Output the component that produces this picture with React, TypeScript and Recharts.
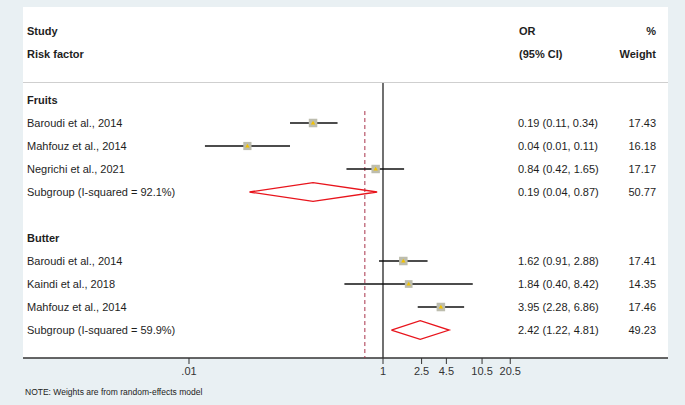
import React from 'react';
import { ScatterChart, Scatter, XAxis, YAxis, ReferenceLine } from 'recharts';

// ---------- data ----------
const rowKeys = [0, 1, 2, 3, 4, 6, 7, 8, 9, 10];
const rowLabels = [
  'Fruits',
  'Baroudi et al., 2014',
  'Mahfouz et al., 2014',
  'Negrichi et al., 2021',
  'Subgroup (I-squared = 92.1%)',
  'Butter',
  'Baroudi et al., 2014',
  'Kaindi et al., 2018',
  'Mahfouz et al., 2014',
  'Subgroup (I-squared = 59.9%)',
];
const rowIsHeader = [true, false, false, false, false, true, false, false, false, false];
const ciLabels = [
  '',
  '0.19 (0.11, 0.34)',
  '0.04 (0.01, 0.11)',
  '0.84 (0.42, 1.65)',
  '0.19 (0.04, 0.87)',
  '',
  '1.62 (0.91, 2.88)',
  '1.84 (0.40, 8.42)',
  '3.95 (2.28, 6.86)',
  '2.42 (1.22, 4.81)',
];
const weightLabels = ['', '17.43', '16.18', '17.17', '50.77', '', '17.41', '14.35', '17.46', '49.23'];

const studyRows = [1, 2, 3, 7, 8, 9];
const studyOR = [0.19, 0.04, 0.84, 1.62, 1.84, 3.95];
const studyLow = [0.11, 0.0146, 0.42, 0.91, 0.4, 2.28];
const studyHigh = [0.34, 0.11, 1.65, 2.88, 8.42, 6.86];
const studyWeight = [17.43, 16.18, 17.17, 17.41, 14.35, 17.46];

const subRows = [4, 10];
const subOR = [0.19, 2.42];
const subLow = [0.042, 1.22];
const subHigh = [0.87, 4.81];

const overallOR = 0.65;
const overallStartRow = 0.48;

const xTicks = [0.01, 1, 2.5, 4.5, 10.5, 20.5];
const xTickLabels = ['.01', '1', '2.5', '4.5', '10.5', '20.5'];

// ---------- layout ----------
const W = 685;
const H = 405;
const X_MIN = Math.pow(10, -3.7113);
const X_MAX = Math.pow(10, 2.9381);
const Y_MIN = -0.739;
const Y_MAX = 11.217;
const DIAMOND_H = 0.41;
const FONT = '"Liberation Sans", Arial, Helvetica, sans-serif';
const TEXT = '#1e1e1e';

const markerData = studyRows.map((r, i) => ({ x: studyOR[i], y: r, w: studyWeight[i] }));

const MarkerShape = (props: any) => {
  const { cx, cy, payload } = props;
  if (cx == null || cy == null) return <g />;
  const s = 8.5 * Math.sqrt(payload.w / 17.4);
  return (
    <g>
      <rect x={cx - s / 2} y={cy - s / 2} width={s} height={s} fill="#bdbdae" />
      <polygon
        points={`${cx - 2.2},${cy + 1.6} ${cx + 2.2},${cy + 1.6} ${cx},${cy - 2.2}`}
        fill="#f2c200"
      />
    </g>
  );
};

const NoShape = () => <g />;

const renderRowTick = (props: any) => {
  const { y, payload } = props;
  const idx = rowKeys.indexOf(Number(payload?.value));
  if (idx < 0) return <g />;
  const bold = rowIsHeader[idx];
  return (
    <g fontFamily={FONT} fontSize={11} fill={TEXT}>
      <text x={27} y={y} dy="0.36em" fontWeight={bold ? 700 : 400} textAnchor="start" fill={TEXT}>
        {rowLabels[idx]}
      </text>
      <text x={518} y={y} dy="0.36em" textAnchor="start" fill={TEXT}>
        {ciLabels[idx]}
      </text>
      <text x={656} y={y} dy="0.36em" textAnchor="end" fill={TEXT}>
        {weightLabels[idx]}
      </text>
    </g>
  );
};

export default function App() {
  return (
    <div style={{ position: 'relative', width: W, height: H, background: '#e9f0f3', overflow: 'hidden' }}>
      <style>{`body{margin:0}`}</style>
      <div style={{ position: 'absolute', left: 23, top: 7, width: 645, height: 351, background: '#ffffff' }} />
      <div style={{ position: 'absolute', left: 0, top: 0 }}>
        <ScatterChart width={W} height={H} margin={{ top: 83, right: 17, bottom: 17, left: 3 }}>
          <XAxis
            dataKey="x"
            type="number"
            scale="log"
            domain={[X_MIN, X_MAX]}
            allowDataOverflow
            ticks={xTicks}
            interval={0}
            tickFormatter={(v: number) => xTickLabels[xTicks.indexOf(v)] ?? String(v)}
            axisLine={{ stroke: '#333', strokeWidth: 1.5 }}
            tickLine={{ stroke: '#333' }}
            tickSize={6}
            tickMargin={3}
            tick={{ fill: '#333', fontSize: 11, fontFamily: FONT }}
            height={30}
          />
          <YAxis
            dataKey="y"
            type="number"
            domain={[Y_MIN, Y_MAX]}
            allowDataOverflow
            reversed
            ticks={rowKeys}
            interval={0}
            width={20}
            axisLine={false}
            tickLine={false}
            tick={renderRowTick}
          />
          <ReferenceLine x={1} stroke="#111" strokeWidth={1.2} />
          <Scatter
            data={[
              { x: overallOR, y: overallStartRow },
              { x: overallOR, y: Y_MAX },
            ]}
            line={{ stroke: '#a8324a', strokeWidth: 1, strokeDasharray: '4 3' }}
            shape={NoShape}
            isAnimationActive={false}
          />
          {studyRows.map((r, i) => (
            <Scatter
              key={'ci' + i}
              data={[
                { x: studyLow[i], y: r },
                { x: studyHigh[i], y: r },
              ]}
              line={{ stroke: '#111', strokeWidth: 1.5 }}
              shape={NoShape}
              isAnimationActive={false}
            />
          ))}
          {subRows.map((r, i) => (
            <Scatter
              key={'dm' + i}
              data={[
                { x: subLow[i], y: r },
                { x: subOR[i], y: r - DIAMOND_H },
                { x: subHigh[i], y: r },
                { x: subOR[i], y: r + DIAMOND_H },
                { x: subLow[i], y: r },
              ]}
              line={{ stroke: '#e8141c', strokeWidth: 1.3 }}
              shape={NoShape}
              isAnimationActive={false}
            />
          ))}
          <Scatter data={markerData} shape={MarkerShape} isAnimationActive={false} />
        </ScatterChart>
      </div>
      <svg
        width={W}
        height={H}
        style={{ position: 'absolute', left: 0, top: 0, pointerEvents: 'none' }}
        fontFamily={FONT}
      >
        <line x1={23} x2={668} y1={82.5} y2={82.5} stroke="#cfcfcf" strokeWidth={1} />
        <g fontSize={11} fontWeight={700} fill={TEXT}>
          <text x={27} y={31} dy="0.36em">Study</text>
          <text x={27} y={54} dy="0.36em">Risk factor</text>
          <text x={519} y={31} dy="0.36em">OR</text>
          <text x={519} y={54} dy="0.36em">(95% CI)</text>
          <text x={656} y={31} dy="0.36em" textAnchor="end">%</text>
          <text x={656} y={54} dy="0.36em" textAnchor="end">Weight</text>
        </g>
        <text x={25} y={392} dy="0.36em" fontSize={8.5} fill="#222">
          NOTE: Weights are from random-effects model
        </text>
      </svg>
    </div>
  );
}
